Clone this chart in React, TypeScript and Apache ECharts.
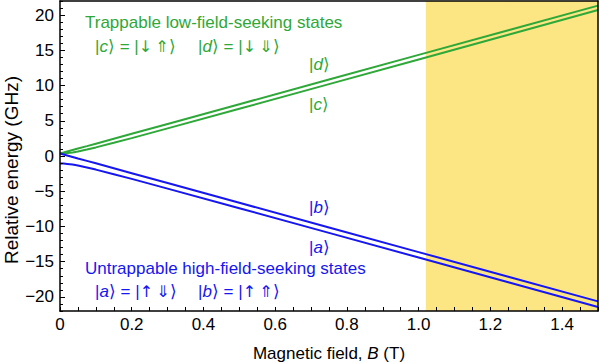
import React, { useEffect, useRef } from "react";
import * as echarts from "echarts";

// Magnetic field values (T)
const fieldB = [0, 0.01, 0.02, 0.035, 0.05, 0.075, 0.1, 0.15, 0.2, 0.3, 0.5, 0.75, 1.0, 1.25, 1.5];
// Relative energy (GHz) for each hyperfine state
const stateD = [0.36, 0.49, 0.64, 0.85, 1.06, 1.40, 1.75, 2.45, 3.15, 4.55, 7.35, 10.85, 14.35, 17.84, 21.34];
const stateC = [0.36, 0.37, 0.41, 0.51, 0.64, 0.92, 1.22, 1.87, 2.54, 3.92, 6.70, 10.20, 13.70, 17.20, 20.71];
const stateB = [0.36, 0.22, 0.08, -0.13, -0.35, -0.69, -1.04, -1.74, -2.44, -3.84, -6.64, -10.14, -13.64, -17.13, -20.63];
const stateA = [-1.07, -1.08, -1.12, -1.22, -1.35, -1.63, -1.93, -2.58, -3.25, -4.63, -7.41, -10.91, -14.41, -17.91, -21.42];

const xTickLabels = [0, 0.2, 0.4, 0.6, 0.8, 1.0, 1.2, 1.4];
const yTickLabels = [-20, -15, -10, -5, 0, 5, 10, 15, 20];
const trapRegion = [1.02, 1.5];

const GREEN = "#2ea838";
const BLUE = "#1616f2";
const FONT = "'Liberation Sans', Arial, Helvetica, sans-serif";
const ARROW_FONT = "'DejaVu Sans', sans-serif";

export default function App() {
  const ref = useRef<HTMLDivElement>(null);
  useEffect(() => {
    document.body.style.margin = "0";
    const chart = echarts.init(ref.current!, null, { renderer: "svg" });
    const pairs = (vals: number[]) => fieldB.map((b, i) => [b, vals[i]]);
    const xMinor: number[] = [];
    for (let i = 0; i <= 30; i++) xMinor.push(+(i * 0.05).toFixed(2));
    const yMinor: number[] = [];
    for (let v = -22; v <= 22; v++) yMinor.push(v);

    const lineSeries = (name: string, vals: number[], color: string) => ({
      name,
      type: "line",
      data: pairs(vals),
      showSymbol: false,
      symbol: "none",
      z: 3,
      lineStyle: { color, width: 2 },
    });

    const ketRich = (fill: string) => ({
      n: { fill, color: fill, fontSize: 17, fontFamily: FONT },
      i: { fill, color: fill, fontSize: 17, fontFamily: FONT, fontStyle: "italic" },
      r: { fill, color: fill, fontSize: 16, fontFamily: ARROW_FONT },
    });

    const txt = (x: number, y: number, text: string, fill: string, rich?: any) => ({
      type: "text",
      x,
      y,
      z: 20,
      style: {
        text,
        fill,
        font: `17px ${FONT}`,
        verticalAlign: "middle",
        align: "left",
        rich,
      },
    });

    const ket = (letter: string, a1: string, a2: string) =>
      `{n||}{i|${letter}}{n|\u27e9 = |}{r|${a1}\u2009${a2}}{n|\u27e9}`;

    const noZero = { show: true, onZero: false, lineStyle: { color: "#000", width: 1.5 } };

    chart.setOption({
      animation: false,
      grid: { left: 60, right: 2, top: 1, bottom: 52, outerBoundsMode: "none" },
      xAxis: [
        {
          type: "value",
          min: 0,
          max: 1.5,
          interval: 0.2,
          z: 10,
          axisLine: noZero,
          axisTick: { show: true, inside: true, length: 4, customValues: xMinor, lineStyle: { color: "#000", width: 1 } },
          axisLabel: {
            customValues: xTickLabels,
            color: "#000",
            fontSize: 17,
            fontFamily: FONT,
            margin: 5,
            formatter: (v: number) => (v === 0 ? "0" : v.toFixed(1)),
          },
          splitLine: { show: false },
        },
        {
          type: "value",
          position: "top",
          min: 0,
          max: 1.5,
          z: 10,
          axisLine: noZero,
          axisTick: { show: false },
          axisLabel: { show: false },
          splitLine: { show: false },
        },
      ],
      yAxis: [
        {
          type: "value",
          min: -22,
          max: 22,
          z: 10,
          axisLine: noZero,
          axisTick: { show: true, inside: true, length: 5, customValues: yTickLabels, lineStyle: { color: "#000", width: 1 } },
          axisLabel: {
            customValues: yTickLabels,
            color: "#000",
            fontSize: 17,
            fontFamily: FONT,
            margin: 6,
            formatter: (v: number) => (v < 0 ? "\u2212" + Math.abs(v) : String(v)),
          },
          splitLine: { show: false },
        },
        {
          type: "value",
          min: -22,
          max: 22,
          position: "left",
          z: 10,
          axisLine: { show: false, onZero: false },
          axisTick: { show: true, inside: true, length: 3, customValues: yMinor, lineStyle: { color: "#000", width: 1 } },
          axisLabel: { show: false },
          splitLine: { show: false },
        },
        {
          type: "value",
          min: -22,
          max: 22,
          position: "right",
          z: 10,
          axisLine: noZero,
          axisTick: { show: false },
          axisLabel: { show: false },
          splitLine: { show: false },
        },
      ],
      series: [
        {
          type: "line",
          data: pairs(stateD),
          showSymbol: false,
          symbol: "none",
          z: 1,
          lineStyle: { opacity: 0, width: 0 },
          markArea: {
            silent: true,
            itemStyle: { color: "#fce583" },
            data: [[{ xAxis: trapRegion[0] }, { xAxis: trapRegion[1] }]],
          },
        },
        lineSeries("d", stateD, GREEN),
        lineSeries("c", stateC, GREEN),
        lineSeries("b", stateB, BLUE),
        lineSeries("a", stateA, BLUE),
      ],
      graphic: [
        txt(85, 22, "Trappable low-field-seeking states", GREEN),
        txt(95, 46, ket("c", "\u2193", "\u21d1"), GREEN, ketRich(GREEN)),
        txt(198, 46, ket("d", "\u2193", "\u21d3"), GREEN, ketRich(GREEN)),
        txt(309, 64, "{n||}{i|d}{n|\u27e9}", GREEN, ketRich(GREEN)),
        txt(309, 104, "{n||}{i|c}{n|\u27e9}", GREEN, ketRich(GREEN)),
        txt(309, 207, "{n||}{i|b}{n|\u27e9}", BLUE, ketRich(BLUE)),
        txt(309, 247, "{n||}{i|a}{n|\u27e9}", BLUE, ketRich(BLUE)),
        txt(85, 268, "Untrappable high-field-seeking states", BLUE),
        txt(95, 291, ket("a", "\u2191", "\u21d3"), BLUE, ketRich(BLUE)),
        txt(198, 291, ket("b", "\u2191", "\u21d1"), BLUE, ketRich(BLUE)),
        {
          type: "text",
          x: 329,
          y: 353,
          z: 20,
          style: {
            text: "{n|Magnetic field, }{i|B}{n| (T)}",
            align: "center",
            verticalAlign: "middle",
            rich: ketRich("#000"),
            fill: "#000",
          },
        },
        {
          type: "text",
          x: 11,
          y: 170,
          rotation: Math.PI / 2,
          z: 20,
          style: {
            text: "Relative energy (GHz)",
            fill: "#000",
            font: `19px ${FONT}`,
            align: "center",
            verticalAlign: "middle",
          },
        },
      ],
    });
    return () => chart.dispose();
  }, []);
  return <div ref={ref} style={{ width: 600, height: 363 }} />;
}
